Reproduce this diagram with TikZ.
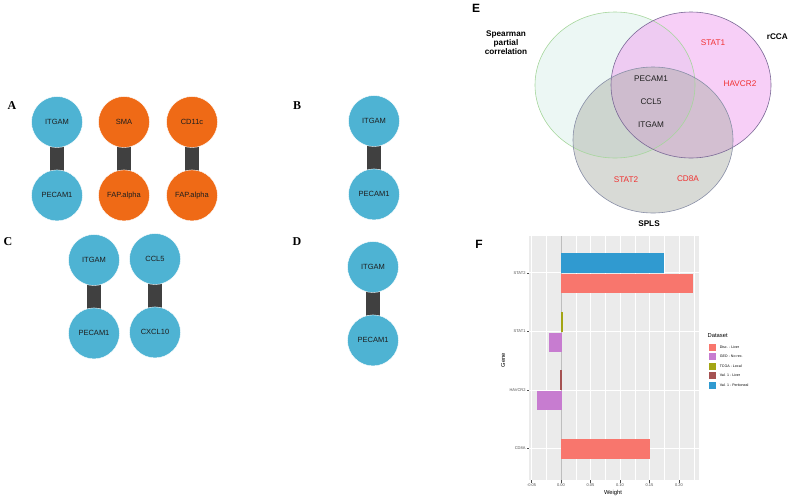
\documentclass[tikz,border=0pt]{standalone}
\usepackage{fontspec}
\setmainfont{Liberation Serif}
\setsansfont{Liberation Sans}
\usepackage{tikz}
\usetikzlibrary{positioning, backgrounds}
\definecolor{nodeblue}{RGB}{78,179,211}
\definecolor{nodeorange}{RGB}{239,106,22}
\definecolor{linkgray}{RGB}{64,64,64}
\definecolor{txtdark}{RGB}{30,30,30}
\definecolor{venngreen}{RGB}{166,214,156}
\definecolor{vennfillg}{RGB}{228,244,240}
\definecolor{vennpink}{RGB}{240,168,240}
\definecolor{vennpurple}{RGB}{122,104,150}
\definecolor{venngray}{RGB}{168,172,164}
\definecolor{venngrayline}{RGB}{136,142,166}
\definecolor{vennred}{RGB}{240,48,48}
\definecolor{panelgray}{RGB}{235,235,235}
\definecolor{zerogray}{RGB}{190,190,190}
\definecolor{ticktxt}{RGB}{77,77,77}
\definecolor{discliver}{RGB}{248,118,109}
\definecolor{georec}{RGB}{199,124,208}
\definecolor{tcgalocal}{RGB}{163,165,20}
\definecolor{valliver}{RGB}{165,82,82}
\definecolor{valperit}{RGB}{48,154,208}
\tikzset{
  genenode/.style={circle, minimum size=51pt, inner sep=0pt,
    font=\sffamily\fontsize{7.5}{9}\selectfont, text=txtdark,
    draw=white, line width=0.4pt},
  bluenode/.style={genenode, fill=nodeblue},
  orangenode/.style={genenode, fill=nodeorange},
  link/.style={line width=14pt, color=linkgray},
  panellabel/.style={font=\rmfamily\bfseries\fontsize{12}{14}\selectfont},
  sflabel/.style={font=\sffamily\bfseries\fontsize{12}{14}\selectfont},
  setname/.style={font=\sffamily\bfseries\fontsize{8.2}{10}\selectfont, align=center},
  venntxt/.style={font=\sffamily\fontsize{8.2}{10}\selectfont, text=txtdark},
  vennredtxt/.style={font=\sffamily\fontsize{8.2}{10}\selectfont, text=vennred},
  bar/.style={draw=white, line width=0.3pt},
  ticklab/.style={font=\sffamily\fontsize{4}{5}\selectfont, text=ticktxt},
  axislab/.style={font=\sffamily\fontsize{5.8}{7}\selectfont, text=black},
  legkey/.style={draw=white, line width=0.5pt, minimum size=8pt, inner sep=0pt},
  leglab/.style={font=\sffamily\fontsize{3.6}{4}\selectfont, text=black, anchor=west}
}
\begin{document}
\begin{tikzpicture}[x=1pt, y=-1pt]
  \useasboundingbox (0,0) rectangle (789,499);

  % Panel A
  \node[panellabel] (labA) at (12,106) {A};
  \node[bluenode] (a1) at (57,122) {ITGAM};
  \node[bluenode, below=22pt of a1] (a2) {PECAM1};
  \node[orangenode] (a3) at (124,122) {SMA};
  \node[orangenode, below=22pt of a3] (a4) {FAP.alpha};
  \node[orangenode] (a5) at (192,122) {CD11c};
  \node[orangenode, below=22pt of a5] (a6) {FAP.alpha};

  % Panel B
  \node[panellabel] (labB) at (297,106) {B};
  \node[bluenode] (b1) at (374,121) {ITGAM};
  \node[bluenode, below=22pt of b1] (b2) {PECAM1};

  % Panel C
  \node[panellabel] (labC) at (8,242) {C};
  \node[bluenode] (c1) at (94,260) {ITGAM};
  \node[bluenode, below=22pt of c1] (c2) {PECAM1};
  \node[bluenode] (c3) at (155,259) {CCL5};
  \node[bluenode, below=22pt of c3] (c4) {CXCL10};

  % Panel D
  \node[panellabel] (labD) at (297,242) {D};
  \node[bluenode] (d1) at (373,267) {ITGAM};
  \node[bluenode, below=22pt of d1] (d2) {PECAM1};

  % Edges behind the circles
  \begin{scope}[on background layer]
    \draw[link] (a1.center) -- (a2.center);
    \draw[link] (a3.center) -- (a4.center);
    \draw[link] (a5.center) -- (a6.center);
    \draw[link] (b1.center) -- (b2.center);
    \draw[link] (c1.center) -- (c2.center);
    \draw[link] (c3.center) -- (c4.center);
    \draw[link] (d1.center) -- (d2.center);
  \end{scope}

  % Panel E: Venn diagram
  \node[sflabel] (labE) at (476,8) {E};
  \fill[vennfillg, fill opacity=0.7] (615,85) ellipse [x radius=80, y radius=73];
  \fill[vennpink, fill opacity=0.55] (691,85) ellipse [x radius=80, y radius=73];
  \fill[venngray, fill opacity=0.45] (653,140) ellipse [x radius=80, y radius=73];
  \draw[venngreen, line width=0.6pt] (615,85) ellipse [x radius=80, y radius=73];
  \draw[vennpurple, line width=0.6pt] (691,85) ellipse [x radius=80, y radius=73];
  \draw[venngrayline, line width=0.6pt] (653,140) ellipse [x radius=80, y radius=73];
  \node[setname] (spear) at (506,43) {Spearman\\[-1pt]partial\\[-1pt]correlation};
  \node[setname, anchor=east, inner sep=0.5pt] (rcca) at (788.5,37) {rCCA};
  \node[setname] (splsname) at (649,224) {SPLS};
  \node[venntxt] (vpecam) at (651,79) {PECAM1};
  \node[venntxt] (vccl) at (651,102) {CCL5};
  \node[venntxt] (vitgam) at (651,125) {ITGAM};
  \node[vennredtxt] (vstat1) at (713,43) {STAT1};
  \node[vennredtxt] (vhavcr) at (740,84) {HAVCR2};
  \node[vennredtxt] (vstat2) at (626,180) {STAT2};
  \node[vennredtxt] (vcd8a) at (688,179) {CD8A};

  % Panel F: bar chart
  \node[sflabel] (labF) at (479,244) {F};
  \fill[panelgray] (529,236) rectangle (699,480);
  \begin{scope}[shift={(561,0)}, x=590pt]
    \foreach \m in {-0.025,0.025,0.075,0.125,0.175,0.225}
      \draw[white, line width=0.35pt] (\m,236) -- (\m,480);
    \foreach \t in {-0.05,0,0.05,0.1,0.15,0.2}
      \draw[white, line width=0.7pt] (\t,236) -- (\t,480);
    \foreach \g in {272.7,331,390,448.3}
      \draw[white, line width=0.7pt] (-0.0542,\g) -- (0.2339,\g);
    \draw[zerogray, line width=0.6pt] (0,236) -- (0,480);

    \fill[bar, valperit] (0,253.3) rectangle (0.173,272.3);
    \fill[bar, discliver] (0,274) rectangle (0.222,292.3);
    \fill[bar, tcgalocal] (0,312) rectangle (0.002,331);
    \fill[bar, georec] (0,333) rectangle (-0.0205,351);
    \fill[bar, valliver] (0,370) rectangle (-0.002,389);
    \fill[bar, georec] (0,391) rectangle (-0.041,409);
    \fill[bar, discliver] (0,439.3) rectangle (0.149,457.7);

    \foreach \t/\lab in {-0.05/-0.05,0/0.00,0.05/0.05,0.1/0.10,0.15/0.15,0.2/0.20}
      \draw[ticktxt, line width=0.4pt] (\t,480) -- (\t,482.5)
        node[ticklab, anchor=north, inner sep=0.8pt] {\lab};
  \end{scope}
  \foreach \g/\lab in {272.7/STAT2,331/STAT1,390/HAVCR2,448.3/CD8A}
    \draw[ticktxt, line width=0.4pt] (529,\g) -- (526.5,\g)
      node[ticklab, anchor=east, inner sep=0.8pt] {\lab};
  \node[axislab] (weight) at (613,493) {Weight};
  \node[axislab, rotate=90] (gene) at (503,360) {Gene};

  % Legend
  \node[axislab, anchor=west, inner sep=0pt] (dataset) at (707.5,336) {Dataset};
  \node[legkey, fill=discliver] (k1) at (712,347) {};
  \node[legkey, fill=georec, below=1pt of k1] (k2) {};
  \node[legkey, fill=tcgalocal, below=1pt of k2] (k3) {};
  \node[legkey, fill=valliver, below=1pt of k3] (k4) {};
  \node[legkey, fill=valperit, below=1pt of k4] (k5) {};
  \node[leglab] at (k1.east) {Disc. - Liver};
  \node[leglab] at (k2.east) {GEO - No rec.};
  \node[leglab] at (k3.east) {TCGA - Local};
  \node[leglab] at (k4.east) {Val. 1 - Liver};
  \node[leglab] at (k5.east) {Val. 1 - Peritoneal};
\end{tikzpicture}
\end{document}
